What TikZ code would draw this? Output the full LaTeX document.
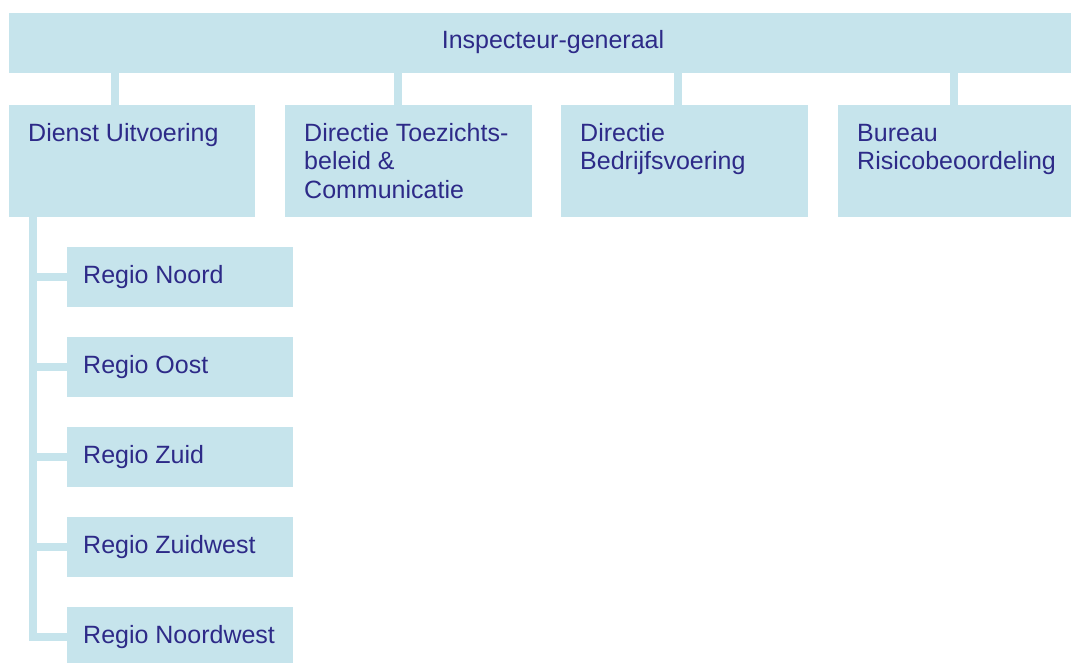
\documentclass[tikz,border=0pt]{standalone}
\usepackage{fontspec}
\setmainfont{Liberation Sans}
\definecolor{boxfill}{HTML}{C6E4EC}
\definecolor{txt}{HTML}{2D2A88}
\newcommand{\mylines}[1]{\vtop{\fontsize{25}{28.5}\selectfont #1}}
\newcommand{\oneline}[1]{\hbox{\strut #1}}
\begin{document}
\begin{tikzpicture}[x=1pt,y=-1pt,
  orgbox/.style={fill=boxfill,draw=none,inner sep=0pt,anchor=north west},
  lbl/.style={anchor=base west,inner sep=0pt,text=txt,font=\fontsize{25}{28.5}\selectfont},
  conn/.style={draw=boxfill,line width=8pt}]
\useasboundingbox (0,0) rectangle (1071,662);
\clip (0,0) rectangle (1071,662);
% top
\node[orgbox,minimum width=1088pt,minimum height=59.5pt] (ig) at (9,13) {};
\node[lbl,anchor=base] (igt) at (553,48) {Inspecteur-generaal};
% second row
\node[orgbox,minimum width=246pt,minimum height=112pt] (du) at (9,105) {};
\node[orgbox,minimum width=247pt,minimum height=112pt] (dt) at (285,105) {};
\node[orgbox,minimum width=247pt,minimum height=112pt] (db) at (561,105) {};
\node[orgbox,minimum width=247pt,minimum height=112pt] (br) at (838,105) {};
\node[lbl] (dut) at (28,141) {Dienst Uitvoering};
\node[lbl] (dtt) at (304,141) {\mylines{\oneline{Directie Toezichts-}\oneline{beleid \&}\oneline{Communicatie}}};
\node[lbl] (dbt) at (580,141) {\mylines{\oneline{Directie}\oneline{Bedrijfsvoering}}};
\node[lbl] (brt) at (857,141) {\mylines{\oneline{Bureau}\oneline{Risicobeoordeling}}};
% connectors top
\coordinate (c1) at (115,0);
\coordinate (c2) at (397.5,0);
\coordinate (c3) at (677.5,0);
\coordinate (c4) at (954,0);
\draw[conn] (ig.south -| c1) -- (du.north -| c1);
\draw[conn] (ig.south -| c2) -- (dt.north -| c2);
\draw[conn] (ig.south -| c3) -- (db.north -| c3);
\draw[conn] (ig.south -| c4) -- (br.north -| c4);
% regions
\foreach \n/\t [count=\i from 0] in {r1/Regio Noord,r2/Regio Oost,r3/Regio Zuid,r4/Regio Zuidwest,r5/Regio Noordwest}{
  \node[orgbox,minimum width=226pt,minimum height=60pt] (\n) at (67,247+90*\i) {};
  \node[lbl,anchor=west] (\n t) at ([xshift=16pt]\n.west) {\t};
}
\coordinate (sp) at (33,0);
\foreach \n in {r1,r2,r3,r4,r5}{
  \draw[conn] (du.south -| sp) |- (\n.west);
}
\end{tikzpicture}
\end{document}
